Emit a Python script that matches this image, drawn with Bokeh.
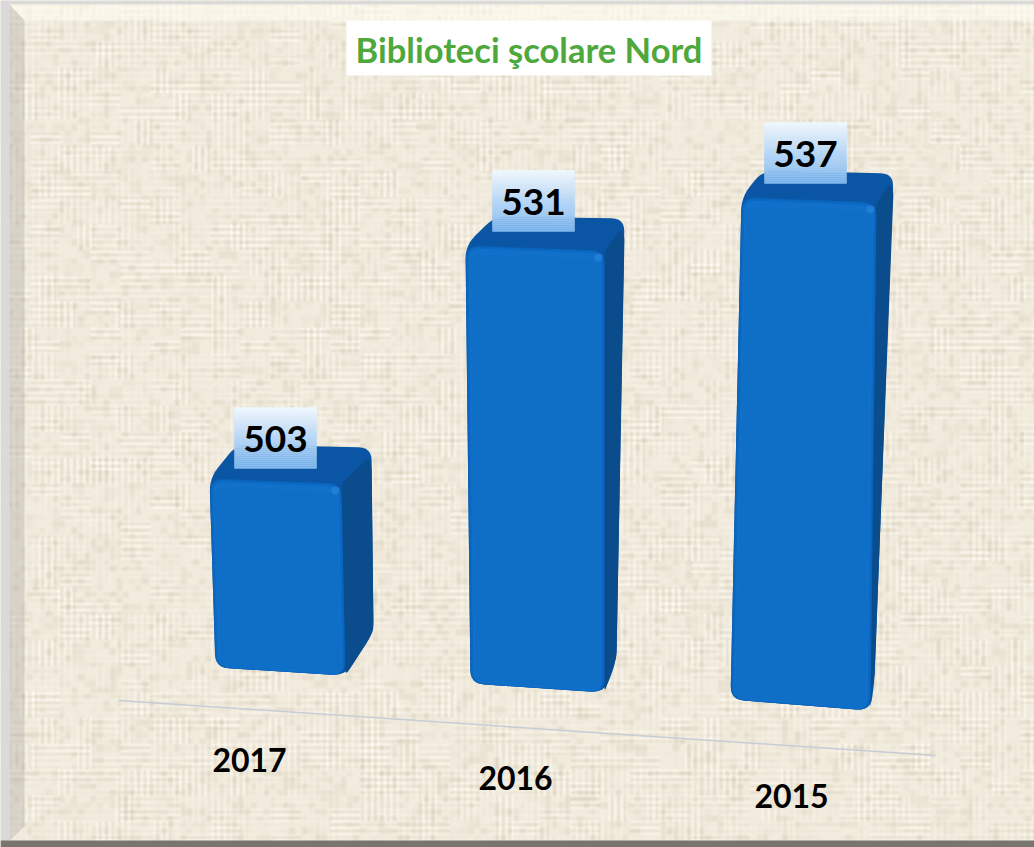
import numpy as np
from bokeh.plotting import figure
from bokeh.models import Range1d
from bokeh.core.properties import value
from bokeh.embed import file_html
from bokeh.resources import INLINE

# ---- data ----
title = "Biblioteci şcolare Nord"
years = ["2017", "2016", "2015"]
counts = [503, 531, 537]

# ---- layout (page pixels) and styles ----
W, H = 1034, 847
PX = 9.0            # pixels per one unit of the value scale
Y_BOTTOM = 460.0
Y_TOP = Y_BOTTOM + H / PX
V0 = 482.0          # value at the floor of the chart
bars = [
    dict(bl=(215, 667), br=(345, 675), xtl=209, xtr=341, tdrop=5, k=9.00,
         back=(236, 444), backr=(371, 447), sideb=(373, 632)),
    dict(bl=(470, 683), br=(604, 692), xtl=465, xtr=604, tdrop=5, k=8.94,
         back=(494, 216), backr=(624, 218), sideb=(616, 660)),
    dict(bl=(730, 699), br=(870, 710), xtl=741, xtr=876, tdrop=5, k=9.13,
         back=(762, 170), backr=(893, 173), sideb=(874, 680)),
]
label_boxes = [(234, 407, 316, 468), (492, 170, 574, 231), (764, 122, 846, 183)]
year_pos = [(249, 759), (515, 777), (791, 795)]


def dy(py):
    return Y_TOP - np.asarray(py, dtype=float) / PX


def rounded(pts, r):
    out = []
    n = len(pts)
    for i in range(n):
        p0 = np.array(pts[i - 1], float)
        p1 = np.array(pts[i], float)
        p2 = np.array(pts[(i + 1) % n], float)
        a = p1 + (p0 - p1) / np.linalg.norm(p0 - p1) * min(r, np.linalg.norm(p0 - p1) / 2)
        b = p1 + (p2 - p1) / np.linalg.norm(p2 - p1) * min(r, np.linalg.norm(p2 - p1) / 2)
        for t in np.linspace(0, 1, 7):
            out.append((1 - t) ** 2 * a + 2 * t * (1 - t) * p1 + t ** 2 * b)
    out = np.array(out)
    return out[:, 0], out[:, 1]


def shape(p, pts, color, r=10, alpha=1.0):
    xs, ys = rounded(pts, r)
    p.patch(xs, dy(ys), fill_color=color, fill_alpha=alpha, line_color=None)


def inset(pts, dx, top, bottom):
    (a, b, c, d) = [np.array(q, float) for q in pts]
    return [(a[0] + dx, a[1] + top), (b[0] - dx, b[1] + top), (c[0] - dx, c[1] - bottom), (d[0] + dx, d[1] - bottom)]


p = figure(width=W, height=H, x_range=Range1d(0, W), y_range=Range1d(Y_BOTTOM, Y_TOP),
           output_backend="svg", toolbar_location=None, min_border=0,
           background_fill_color="#EFE8D8", border_fill_color="#EFE8D8", outline_line_color=None)
p.axis.visible = False
p.grid.visible = False


# ---- woven paper background ----
def hash2(a, b):
    v = np.sin(a * 12.9898 + b * 78.233) * 43758.5453
    return v - np.floor(v)


def box(a, n):
    k = np.ones(n) / n
    a = np.apply_along_axis(lambda m: np.convolve(m, k, mode="same"), 0, a)
    return np.apply_along_axis(lambda m: np.convolve(m, k, mode="same"), 1, a)


yy, xx = np.mgrid[0:H, 0:W].astype(float)
cx, cy = np.floor(xx / 6.4), np.floor(yy / 6.4)
warp = np.cos(2 * np.pi * xx / 6.4) * hash2(np.floor(xx / 19), np.floor(yy / 26) + 3) ** 2
weft = np.cos(2 * np.pi * yy / 6.4) * hash2(np.floor(xx / 30) + 7, np.floor(yy / 13)) ** 2
dash = box(hash2(cx, cy) ** 3, 3)
tex = 1.0 * warp + 1.0 * weft - 1.3 * dash
rgba = np.zeros((H, W, 4), dtype=np.uint8)
rgba[..., 0] = np.clip(243 + 9 * tex, 0, 255)
rgba[..., 1] = np.clip(237 + 10 * tex, 0, 255)
rgba[..., 2] = np.clip(224 + 13 * tex, 0, 255)
rgba[..., 3] = 255
img = rgba.view(dtype=np.uint32).reshape(H, W)
p.image_rgba(image=[img], x=0, y=Y_BOTTOM, dw=W, dh=H / PX)

# ---- bevelled frame ----
p.quad(left=[0], right=[W], top=dy([0]), bottom=dy([4]), fill_color="#DADADA", line_color=None)
p.quad(left=[0], right=[9], top=dy([0]), bottom=dy([H]), fill_color="#DADADA", line_color=None)
p.patch([9, W, W, 24], dy([4, 4, 20, 20]), fill_color="#FFFDF2", fill_alpha=0.6, line_color=None)
p.patch([9, 24, 24, 9], dy([4, 20, 826, 840]), fill_color="#A9A79E", fill_alpha=0.35, line_color=None)
p.quad(left=[0], right=[W], top=dy([840]), bottom=dy([H]), fill_color="#77756C", line_color=None)

# ---- floor line ----
p.line([118, 935], dy([700, 755]), line_color="#C6CDD6", line_width=1.5)

# ---- bars ----
for b, v in zip(bars, counts):
    ytl = b["bl"][1] - b["k"] * (v - V0)
    ytr = ytl + b["tdrop"]
    tl, tr = (b["xtl"], ytl), (b["xtr"], ytr)
    # one rounded silhouette, so that the faces meet without a gap
    shape(p, [tl, b["back"], b["backr"], b["sideb"], b["br"], b["bl"]], "#0A56A4", r=13)
    # darker side face, drawn just inside the silhouette
    bx_, by_ = b["backr"]
    sx_, sy_ = b["sideb"]
    shape(p, [tr, (bx_ - 3, by_ + 10), (bx_, by_ + 18), (sx_, sy_ - 4), (sx_ - 2, sy_ + 2), b["br"]], "#0A4C8C", r=6)
    front = [tl, tr, b["br"], b["bl"]]
    shape(p, front, "#0A62B8", r=14)
    shape(p, inset(front, 1, 1, 0), "#0C69C2", r=13)
    shape(p, inset(front, 3, 3, 1), "#1070CA", r=11)
    shape(p, inset(front, 5, 9, 3), "#0F6EC6", r=8)
    p.scatter([b["xtr"] - 6], dy([ytr + 7]), size=8, fill_color="#2A86DA", fill_alpha=0.7, line_color=None)

# ---- value labels with a vertical gradient ----
STEPS = 30
stops = [(0.0, (240, 248, 254)), (0.5, (185, 215, 246)), (1.0, (128, 184, 238))]
for bx, v in zip(label_boxes, counts):
    x0, y0, x1, y1 = bx
    edges = np.linspace(y0, y1, STEPS + 1)
    cols = []
    for i in range(STEPS):
        t = (i + 0.5) / STEPS
        c = [np.interp(t, [s[0] for s in stops], [s[1][j] for s in stops]) for j in range(3)]
        cols.append("#%02X%02X%02X" % tuple(int(round(q)) for q in c))
    p.quad(left=[x0] * STEPS, right=[x1] * STEPS, top=dy(edges[:-1]), bottom=dy(edges[1:]),
           fill_color=cols, line_color=cols, line_width=0.5)
    p.text([(x0 + x1) / 2], dy([(y0 + y1) / 2 + 1]), text=[str(v)], text_font=value("Lato"),
           text_font_style="bold", text_font_size="37px", text_color="#000000",
           text_align="center", text_baseline="middle")

# ---- category labels ----
for (x, y), yr in zip(year_pos, years):
    p.text([x], dy([y]), text=[yr], text_font=value("Lato"), text_font_style="bold",
           text_font_size="32px", text_color="#000000", text_align="center", text_baseline="middle")

# ---- title ----
p.quad(left=[346], right=[711], top=dy([20]), bottom=dy([75]), fill_color="#FFFFFF", line_color=None)
p.text([528.5], dy([49]), text=[title], text_font=value("Lato"), text_font_style="bold",
       text_font_size="34.5px", text_color="#4EA83B", text_align="center", text_baseline="middle")

open("out.html", "w").write(file_html(p, INLINE))
